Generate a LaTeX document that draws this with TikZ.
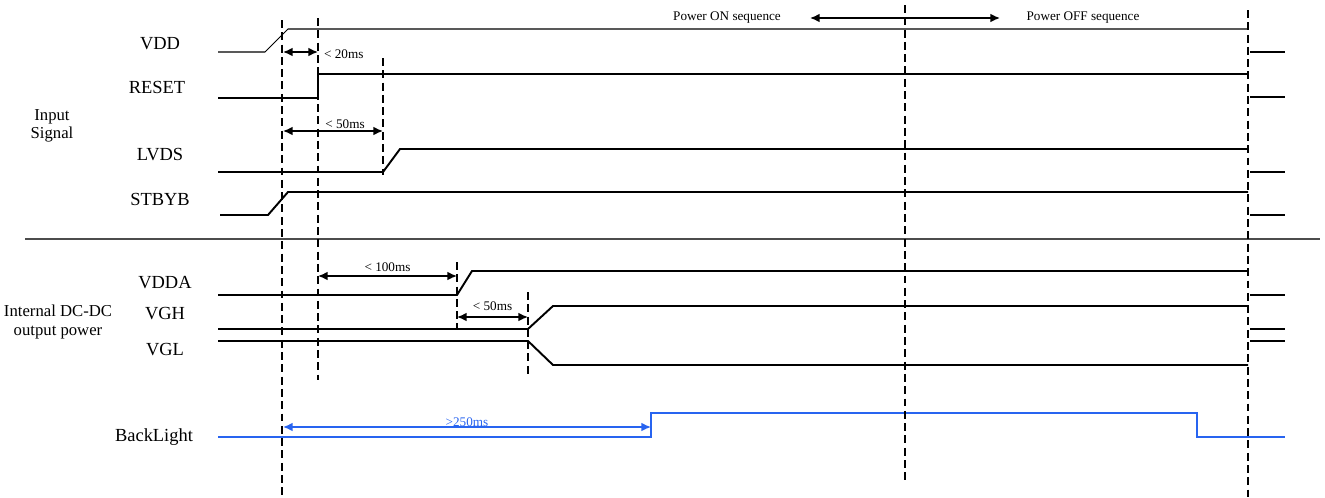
\documentclass[tikz,border=0pt]{standalone}
\usepackage{fontspec}
\setmainfont{Liberation Serif}
\usetikzlibrary{arrows.meta}
\definecolor{blsig}{RGB}{40,100,240}
\newcommand{\ms}{ms}

\begin{document}
\begin{tikzpicture}[x=0.02cm,y=-0.02cm,
	lbl/.style={font=\fontsize{10.5}{12}\selectfont,inner sep=0pt},
	grp/.style={font=\fontsize{9.5}{10.5}\selectfont,align=center,inner sep=0pt},
	tlbl/.style={font=\fontsize{7.5}{9}\selectfont,inner sep=1pt},
	sig/.style={line width=1.1pt},
	thinsig/.style={line width=0.6pt},
	tline/.style={line width=#1,dash pattern=on 4.5pt off 2.5pt},
	tline/.default=1.1pt,
	span/.style={{Latex[length=5.5pt,width=5pt]}-{Latex[length=5.5pt,width=5pt]},line width=0.9pt}]
	\useasboundingbox (0,0) rectangle (1325,497);
	\node[lbl] (vdd) at (160,44) {VDD};
	\node[lbl] (reset) at (157,87) {RESET};
	\node[lbl] (lvds) at (160,155) {LVDS};
	\node[lbl] (stbyb) at (160,199) {STBYB};
	\node[lbl] (vdda) at (165,283) {VDDA};
	\node[lbl] (vgh) at (165,314) {VGH};
	\node[lbl] (vgl) at (165,350) {VGL};
	\node[lbl] (bl) at (154,437) {BackLight};
	\node[grp] (inp) at (52,126) {Input\\Signal};
	\node[grp] (dcdc) at (58,322) {Internal DC-DC\\output power};
	\draw[gray!60!black,line width=0.7pt] (25,239) -- (1320,239);
	% waveforms
	\draw[thinsig] (218,52) -- (265,52) -- (288,29) -- (1248,29);
	\draw[thinsig] (218,98) -- (318,98);
	\draw[sig] (318,98) -- (318,74) -- (1248,74);
	\draw[thinsig] (218,172) -- (383,172);
	\draw[sig] (383,172) -- (400,149) -- (1248,149);
	\draw[sig] (220,215) -- (268,215) -- (288,192) -- (1248,192);
	\draw[sig] (218,295) -- (457,295) -- (472,271) -- (1248,271);
	\draw[sig] (218,329) -- (528,329) -- (553,306) -- (1248,306);
	\draw[sig] (218,341) -- (528,341) -- (553,365) -- (1248,365);
	\draw[blsig,line width=1.2pt] (218,437) -- (651,437) -- (651,413) -- (1197,413) -- (1197,437) -- (1285,437);
	\foreach \y in {52,97,215,295,341}
		\draw[sig] (1250,\y) -- (1285,\y);
	\foreach \y in {172,329}
		\draw[thinsig] (1250,\y) -- (1285,\y);
	% timing marks
	\draw[tline=0.6pt] (282,20) -- (282,497);
	\draw[tline] (318,18) -- (318,380);
	\draw[tline=0.9pt] (383,58) -- (383,175);
	\draw[tline=0.7pt] (457,262) -- (457,330);
	\draw[tline=0.9pt] (528,292) -- (528,375);
	\draw[tline=0.9pt] (905,5) -- (905,480);
	\draw[tline=1.5pt] (1248,10) -- (1248,497);
	\coordinate (a20s) at (283,52);
	\coordinate (a20e) at (318,52);
	\coordinate (a50s) at (283,131);
	\coordinate (a50e) at (383,131);
	\coordinate (a100s) at (318,276);
	\coordinate (a100e) at (457,276);
	\coordinate (g50s) at (457,317);
	\coordinate (g50e) at (528,317);
	\coordinate (bls) at (283,427);
	\coordinate (ble) at (651,427);
	\coordinate (pws) at (810,18);
	\coordinate (pwe) at (1000,18);
	\node[tlbl,anchor=west] (t20) at (322,54) {< 20\ms};
	\node[tlbl] (pon) at (727,18) {Power ON sequence};
	\node[tlbl] (poff) at (1083,18) {Power OFF sequence};
	\path[span]
	(a20s) edge (a20e)
	(a50s) edge node[tlbl,above,pos=0.62] {< 50\ms} (a50e)
	(a100s) edge node[tlbl,above,yshift=1pt] {< 100\ms} (a100e)
	(g50s) edge node[tlbl,above,yshift=2pt] {< 50\ms} (g50e)
	(pws) edge (pwe);
	\path[span,blsig] (bls) edge node[tlbl,above,inner sep=0pt] {>250\ms} (ble);
\end{tikzpicture}
\end{document}
